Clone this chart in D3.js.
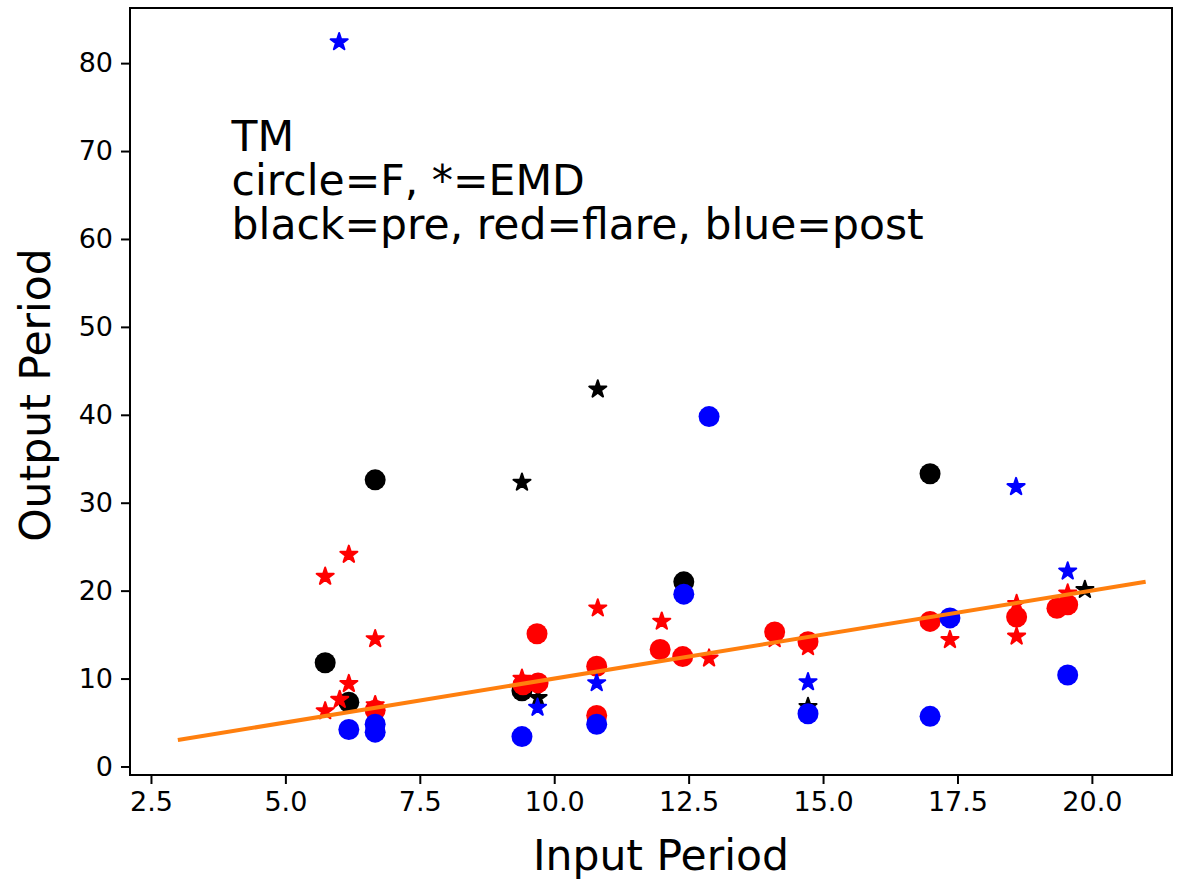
<!DOCTYPE html>
<html>
<head>
<meta charset="utf-8">
<script src="https://cdn.jsdelivr.net/npm/d3@7"></script>
<style>
  body { margin: 0; background: #fff; }
  svg { font-family: "DejaVu Sans", sans-serif; }
</style>
</head>
<body>
<div class="chart"></div>
<script>
// pre (black)
var preF_x = [5.74, 6.18, 6.67, 9.4, 12.41, 16.99];
var preF_y = [11.8, 7.3, 32.6, 8.6, 21.0, 33.3];
var preE_x = [9.4, 9.7, 10.81, 14.72, 19.87];
var preE_y = [32.3, 7.8, 42.9, 6.8, 20.1];
// flare (red)
var flareF_x = [6.67, 9.42, 9.7, 9.68, 10.79, 10.79, 11.97, 12.39, 14.1, 14.72, 16.99, 18.6, 19.35, 19.55];
var flareF_y = [6.4, 9.3, 9.5, 15.1, 11.4, 5.8, 13.3, 12.5, 15.3, 14.2, 16.5, 17.0, 18.0, 18.4];
var flareE_x = [5.74, 6.18, 6.67, 6.18, 5.74, 6.01, 6.67, 9.4, 10.81, 12.0, 12.88, 14.1, 14.72, 17.36, 18.6, 18.6, 19.55];
var flareE_y = [21.6, 24.1, 14.5, 9.4, 6.3, 7.6, 7.0, 10.0, 18.0, 16.5, 12.3, 14.5, 13.6, 14.4, 14.8, 18.5, 19.7];
// post (blue)
var postF_x = [6.18, 6.67, 6.67, 9.4, 10.79, 12.41, 12.88, 14.72, 16.99, 17.36, 19.55];
var postF_y = [4.2, 4.8, 3.9, 3.4, 4.8, 19.6, 39.8, 6.0, 5.7, 16.9, 10.4];
var postE_x = [6.0, 9.69, 10.79, 14.72, 18.59, 19.55];
var postE_y = [82.4, 6.7, 9.5, 9.6, 31.8, 22.2];
// y = x reference line
var line_x = [3, 21];
var line_y = [3, 21];

var xTicks = [2.5, 5.0, 7.5, 10.0, 12.5, 15.0, 17.5, 20.0];
var yTicks = [0, 10, 20, 30, 40, 50, 60, 70, 80];
var noteLines = ["TM", "circle=F, *=EMD", "black=pre, red=flare, blue=post"];

var W = 1181, H = 879;
var pLeft = 130, pRight = 1172, pTop = 8, pBottom = 775;

var svg = d3.select("div.chart").append("svg")
    .attr("width", W).attr("height", H);

var x = d3.scaleLinear().domain([2.11, 21.49]).range([pLeft, pRight]);
var y = d3.scaleLinear().domain([-0.97, 86.27]).range([pBottom, pTop]);

// axes
var xAxis = svg.append("g")
    .attr("transform", "translate(0," + pBottom + ")")
    .call(d3.axisBottom(x).tickValues(xTicks).tickFormat(d3.format(".1f")).tickSizeOuter(0).tickSize(9).tickPadding(8));
var yAxis = svg.append("g")
    .attr("transform", "translate(" + pLeft + ",0)")
    .call(d3.axisLeft(y).tickValues(yTicks).tickSizeOuter(0).tickSize(9).tickPadding(8));
[xAxis, yAxis].forEach(function(a){
    a.attr("font-size", 27).attr("font-family", "DejaVu Sans");
    a.selectAll("text").attr("fill", "#000");
    a.selectAll("line").attr("stroke", "#000").attr("stroke-width", 2);
    a.select(".domain").remove();
});

// frame
svg.append("rect")
    .attr("x", pLeft).attr("y", pTop)
    .attr("width", pRight - pLeft).attr("height", pBottom - pTop)
    .attr("fill", "none").attr("stroke", "#000").attr("stroke-width", 2);

function starPath(R){
    var r = R * 0.381966, p = [];
    for (var i = 0; i < 10; i++){
        var a = -Math.PI / 2 + i * Math.PI / 5;
        var rr = (i % 2 === 0) ? R : r;
        p.push([rr * Math.cos(a), rr * Math.sin(a)]);
    }
    return "M" + p.join("L") + "Z";
}

var plot = svg.append("g");

function circles(xs, ys, col){
    plot.selectAll(null)
        .data(d3.zip(xs, ys))
        .enter()
        .append("circle")
        .attr("cx", function(d){return x(d[0]);})
        .attr("cy", function(d){return y(d[1]);})
        .attr("r", 10.5)
        .attr("fill", col);
}
function stars(xs, ys, col){
    plot.selectAll(null)
        .data(d3.zip(xs, ys))
        .enter()
        .append("path")
        .attr("d", starPath(9))
        .attr("transform", function(d){return "translate(" + x(d[0]) + "," + y(d[1]) + ")";})
        .attr("fill", col)
        .attr("stroke", col)
        .attr("stroke-width", 2)
        .attr("stroke-linejoin", "round");
}

circles(preF_x, preF_y, "#000000");
stars(preE_x, preE_y, "#000000");
circles(flareF_x, flareF_y, "#ff0000");
stars(flareE_x, flareE_y, "#ff0000");
circles(postF_x, postF_y, "#0000ff");
stars(postE_x, postE_y, "#0000ff");

plot.append("path")
    .datum(d3.zip(line_x, line_y))
    .attr("d", d3.line().x(function(d){return x(d[0]);}).y(function(d){return y(d[1]);}))
    .attr("stroke", "#ff7f0e")
    .attr("stroke-width", 4)
    .attr("fill", "none");

// annotation, bottom line baseline at data (4, 60)
var note = svg.append("text")
    .attr("font-size", 42.5)
    .attr("fill", "#000");
noteLines.forEach(function(t, i){
    note.append("tspan")
        .attr("x", x(4))
        .attr("y", y(60) - (noteLines.length - 1 - i) * 44)
        .text(t);
});

// axis labels
svg.append("text")
    .attr("x", 661)
    .attr("y", 870)
    .attr("text-anchor", "middle")
    .attr("font-size", 42.5)
    .text("Input Period");
svg.append("text")
    .attr("transform", "translate(50,395) rotate(-90)")
    .attr("text-anchor", "middle")
    .attr("font-size", 42.5)
    .text("Output Period");
</script>
</body>
</html>
